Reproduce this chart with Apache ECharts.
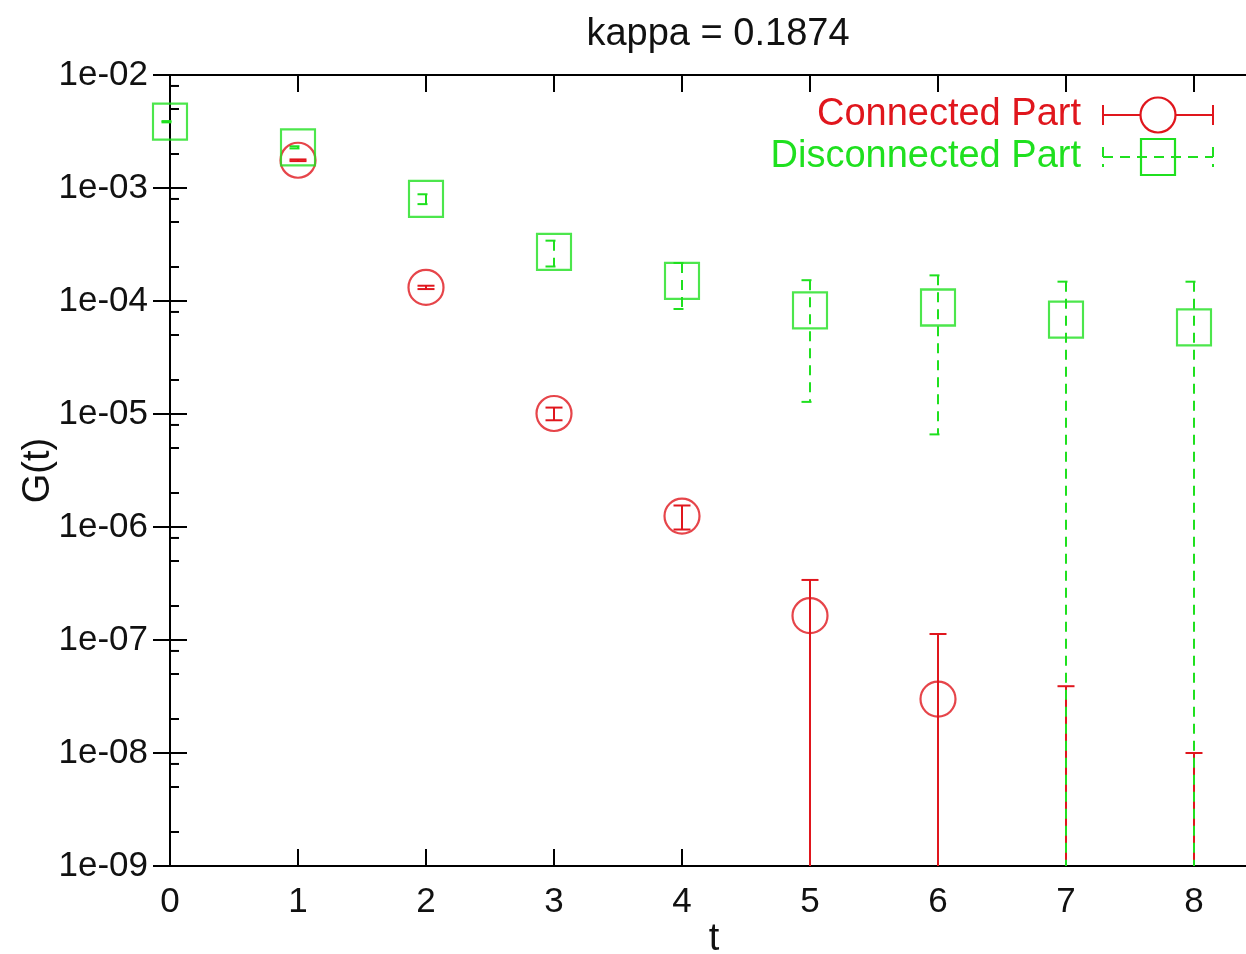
<!DOCTYPE html>
<html>
<head>
<meta charset="utf-8">
<script src="https://cdn.jsdelivr.net/npm/echarts@6/dist/echarts.min.js"></script>
<style>
  html, body { margin: 0; padding: 0; background: #fff; }
  #chart { width: 1246px; height: 954px; }
</style>
</head>
<body>
<div id="chart"></div>
<script>
// Datos
const tValues = [0, 1, 2, 3, 4, 5, 6, 7, 8];
const connectedG = [null, 1.76e-3, 1.32e-4, 1.01e-5, 1.25e-6, 1.64e-7, 3.0e-8, -1.0e-8, -2.0e-8];
const connectedErr = [null, 0.03e-3, 0.045e-4, 0.13e-5, 0.3e-6, 1.76e-7, 8.3e-8, 4.9e-8, 3.0e-8];
const disconnectedG = [3.86e-3, 2.29e-3, 8.0e-4, 2.72e-4, 1.51e-4, 8.28e-5, 8.76e-5, 6.83e-5, 5.85e-5];
const disconnectedErr = [0.05e-3, 0.05e-3, 0.8e-4, 0.7e-4, 0.66e-4, 7.0e-5, 8.1e-5, 8.0e-5, 8.97e-5];
const minorMantissas = [2, 5, 8];

const yMin = 1e-9, yMax = 1e-2;
const xMin = 0, xMax = 8.5;
const RED = '#e0161d';
const GREEN = '#1fe01f';
const FONT = 'Liberation Sans';

const chart = echarts.init(document.getElementById('chart'));

// puntos validos (positivos) para los simbolos
function points(vals) {
    return tValues.map((t, i) => [t, vals[i]]).filter(p => p[1] != null && p[1] > 0);
}
function errData(vals, errs) {
    return tValues.map((t, i) => [t, vals[i], errs[i]]).filter(p => p[1] != null);
}

// barras de error con recorte en el eje inferior
function errorBarRenderer(color, dash) {
    return function(params, api) {
        const t = api.value(0);
        const v = api.value(1);
        const e = api.value(2);
        const hi = Math.min(v + e, yMax);
        let lo = v - e;
        const loClipped = lo <= yMin;
        if (loClipped) lo = yMin;
        const top = api.coord([t, hi]);
        const bot = api.coord([t, lo]);
        const half = 8.5;
        const style = { stroke: color, lineWidth: 2, lineDash: dash, fill: null };
        const children = [
            { type: 'line', shape: { x1: top[0], y1: top[1], x2: bot[0], y2: bot[1] }, style: style }
        ];
        children.push({ type: 'line', shape: { x1: top[0] - half, y1: top[1], x2: top[0] + half, y2: top[1] }, style: style });
        if (!loClipped) {
            children.push({ type: 'line', shape: { x1: bot[0] - half, y1: bot[1], x2: bot[0] + half, y2: bot[1] }, style: style });
        }
        return { type: 'group', children: children };
    };
}

// marcas menores del eje log (2, 5, 8 por decada)
const minorTicks = [];
for (let e = -9; e < -2; e++) {
    minorMantissas.forEach(m => minorTicks.push([0, m * Math.pow(10, e)]));
}

function expLabel(value) {
    const ex = Math.round(Math.log10(value));
    const s = String(Math.abs(ex)).padStart(2, '0');
    return '1e' + (ex < 0 ? '-' : '+') + s;
}

const axisLineStyle = { color: '#000', width: 2 };
const labelStyle = { color: '#111', fontFamily: FONT, fontSize: 35 };

const option = {
    animation: false,
    backgroundColor: '#fff',
    title: {
        text: 'kappa = 0.1874',
        left: 713,
        textAlign: 'center',
        top: 11,
        textStyle: { fontFamily: FONT, fontSize: 38, fontWeight: 'normal', color: '#111' }
    },
    grid: {
        left: 170,
        right: -12,
        top: 75,
        bottom: 88,
        containLabel: false,
        outerBoundsMode: 'none'
    },
    xAxis: [
        {
            type: 'value',
            min: xMin,
            max: xMax,
            interval: 1,
            position: 'bottom',
            name: 't',
            nameLocation: 'middle',
            nameGap: 55,
            nameMoveOverlap: false,
            nameTextStyle: { fontFamily: FONT, fontSize: 38, color: '#111' },
            axisLine: { show: true, lineStyle: axisLineStyle },
            axisTick: { show: true, inside: true, length: 17, lineStyle: axisLineStyle },
            axisLabel: Object.assign({ margin: 19, showMaxLabel: false,
                formatter: v => (Number.isInteger(v) ? String(v) : '') }, labelStyle),
            splitLine: { show: false }
        },
        {
            type: 'value',
            min: xMin,
            max: xMax,
            interval: 1,
            position: 'top',
            axisLine: { show: true, lineStyle: axisLineStyle },
            axisTick: { show: true, inside: true, length: 17, lineStyle: axisLineStyle },
            axisLabel: { show: false },
            splitLine: { show: false }
        }
    ],
    yAxis: [
        {
            type: 'log',
            logBase: 10,
            min: yMin,
            max: yMax,
            interval: 1,
            position: 'left',
            name: 'G(t)',
            nameLocation: 'middle',
            nameGap: 112,
            nameMoveOverlap: false,
            nameRotate: 90,
            nameTextStyle: { fontFamily: FONT, fontSize: 38, color: '#111' },
            axisLine: { show: true, lineStyle: axisLineStyle },
            axisTick: { show: true, inside: true, length: 17, lineStyle: axisLineStyle },
            axisLabel: Object.assign({ margin: 22, formatter: expLabel }, labelStyle),
            splitLine: { show: false }
        },
        {
            type: 'log',
            logBase: 10,
            min: yMin,
            max: yMax,
            interval: 1,
            position: 'right',
            axisLine: { show: true, lineStyle: axisLineStyle },
            axisTick: { show: true, inside: true, length: 17, lineStyle: axisLineStyle },
            axisLabel: { show: false },
            splitLine: { show: false }
        }
    ],
    series: [
        {
            name: 'minor ticks',
            type: 'custom',
            silent: true,
            data: minorTicks,
            renderItem: function(params, api) {
                const p = api.coord([api.value(0), api.value(1)]);
                return {
                    type: 'line',
                    shape: { x1: p[0], y1: p[1], x2: p[0] + 9, y2: p[1] },
                    style: { stroke: '#000', lineWidth: 2 }
                };
            }
        },
        {
            name: 'Connected Part errors',
            type: 'custom',
            silent: true,
            data: errData(connectedG, connectedErr),
            encode: { x: 0, y: 1 },
            renderItem: errorBarRenderer(RED, null)
        },
        {
            name: 'Connected Part',
            type: 'scatter',
            data: points(connectedG),
            symbol: 'circle',
            symbolSize: 35,
            itemStyle: { color: 'rgba(0,0,0,0)', borderColor: RED, borderWidth: 2.2 }
        },
        {
            name: 'Disconnected Part errors',
            type: 'custom',
            silent: true,
            data: errData(disconnectedG, disconnectedErr),
            encode: { x: 0, y: 1 },
            renderItem: errorBarRenderer(GREEN, [10, 7])
        },
        {
            name: 'Disconnected Part',
            type: 'scatter',
            data: points(disconnectedG),
            symbol: 'rect',
            symbolSize: [34, 36],
            itemStyle: { color: 'rgba(0,0,0,0)', borderColor: GREEN, borderWidth: 2.2 }
        }
    ],
    // leyenda estilo gnuplot (texto a la izquierda, muestra a la derecha)
    graphic: [
        {
            type: 'text', x: 1081, y: 115,
            style: { text: 'Connected Part', fill: RED, font: '38px "Liberation Sans"', textAlign: 'right', textVerticalAlign: 'middle' }
        },
        { type: 'line', shape: { x1: 1103, y1: 115, x2: 1213, y2: 115 }, style: { stroke: RED, lineWidth: 2 } },
        { type: 'line', shape: { x1: 1103, y1: 105, x2: 1103, y2: 125 }, style: { stroke: RED, lineWidth: 2 } },
        { type: 'line', shape: { x1: 1213, y1: 105, x2: 1213, y2: 125 }, style: { stroke: RED, lineWidth: 2 } },
        { type: 'circle', shape: { cx: 1158, cy: 115, r: 17.5 }, style: { stroke: RED, lineWidth: 2.2, fill: '#fff' } },
        {
            type: 'text', x: 1081, y: 157,
            style: { text: 'Disconnected Part', fill: GREEN, font: '38px "Liberation Sans"', textAlign: 'right', textVerticalAlign: 'middle' }
        },
        { type: 'line', shape: { x1: 1103, y1: 157, x2: 1213, y2: 157 }, style: { stroke: GREEN, lineWidth: 2, lineDash: [10, 7] } },
        { type: 'line', shape: { x1: 1103, y1: 147, x2: 1103, y2: 167 }, style: { stroke: GREEN, lineWidth: 2, lineDash: [10, 7] } },
        { type: 'line', shape: { x1: 1213, y1: 147, x2: 1213, y2: 167 }, style: { stroke: GREEN, lineWidth: 2, lineDash: [10, 7] } },
        { type: 'rect', shape: { x: 1141, y: 139, width: 34, height: 36 }, style: { stroke: GREEN, lineWidth: 2.2, fill: null } }
    ]
};

chart.setOption(option);
</script>
</body>
</html>
